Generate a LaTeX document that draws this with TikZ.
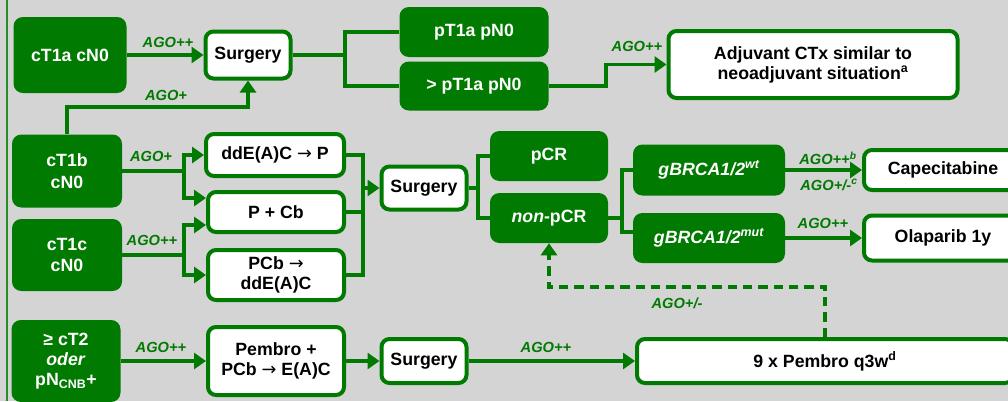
\documentclass[tikz,border=0pt]{standalone}
\usepackage{fontspec}
\setmainfont{Liberation Sans}
\newfontfamily\arrowfont{DejaVu Sans}
\usetikzlibrary{arrows.meta}
\definecolor{agogreen}{RGB}{0,122,0}
\definecolor{slidegray}{RGB}{212,212,212}
\newcommand{\thento}{{\arrowfont\mdseries →}}

\begin{document}
\begin{tikzpicture}[x=0.75pt, y=-0.75pt]
		\tikzstyle {stage} = [fill=agogreen, text=white, rounded corners=7pt, align=center, inner sep=2pt, font=\fontsize{13.3}{16}\selectfont\bfseries]
		\tikzstyle {therapy} = [draw=agogreen, line width=3pt, fill=white, text=black, rounded corners=6pt, align=center, inner sep=2pt, font=\fontsize{13.3}{15}\selectfont\bfseries]
		\tikzstyle {flow} = [draw=agogreen, line width=2.8pt]
		\tikzstyle {flow arrow} = [flow, -{Triangle[length=9pt,width=12pt]}]
		\tikzstyle {maybe} = [flow arrow, dash pattern=on 7pt off 4.5pt]
		\tikzstyle {ago} = [text=agogreen, inner sep=0pt, font=\fontsize{11}{13}\selectfont\bfseries\itshape]

		\useasboundingbox (0,0) rectangle (1008,401);
		\clip (0,0) rectangle (1008,401);
		\fill[slidegray] (0,0) rectangle (1008,401);
		\draw[agogreen!85, line width=1.2pt] (7,0) -- (7,401);

		% cT1a
		\node[stage, minimum width=84.75pt, minimum height=57pt] (t1a) at (70,55) {cT1a cN0};
		\node[therapy, minimum width=63.75pt, minimum height=35.25pt] (surg1) at (248,55) {Surgery};
		\node[stage, minimum width=111.75pt, minimum height=37.5pt] (pt1a) at (474,32) {pT1a pN0};
		\node[stage, minimum width=111.75pt, minimum height=36.75pt] (gtpt1a) at (474,86) {> pT1a pN0};
		\node[therapy, minimum width=216.75pt, minimum height=50.25pt] (adj) at (813,64.5) {Adjuvant CTx similar to\\neoadjuvant situation\textsuperscript{a}};

		\node[ago] (l1) at (168,42) {AGO++};
		\node[ago] (l2) at (166,95) {AGO+};
		\node[ago] (l3) at (637,46) {AGO++};

		\draw[flow arrow] (t1a) -- (surg1);
		\coordinate (s1) at (345,55);
		\draw[flow] (surg1) -- (s1);
		\draw[flow] (pt1a.west) -| (s1) |- (gtpt1a.west);
		\draw[flow arrow] (gtpt1a.east) -- ++(57,0) |- (adj.west);

		% cT1b / cT1c
		\node[stage, minimum width=82.5pt, minimum height=54.75pt] (t1b) at (67,171) {cT1b\\cN0};
		\node[stage, minimum width=82.5pt, minimum height=54pt] (t1c) at (67,255) {cT1c\\cN0};
		\node[therapy, minimum width=103.5pt, minimum height=31.5pt] (dde) at (275,155) {ddE(A)C \thento{} P};
		\node[therapy, minimum width=102pt, minimum height=30pt] (pcb) at (276,212) {P + Cb};
		\node[therapy, minimum width=102pt, minimum height=37.5pt] (pcbdde) at (276,275) {PCb \thento\\ddE(A)C};
		\node[therapy, minimum width=63.75pt, minimum height=32.25pt] (surg2) at (424,188) {Surgery};
		\node[stage, minimum width=88.5pt, minimum height=37.5pt] (pcr) at (549,156) {pCR};
		\node[stage, minimum width=88.5pt, minimum height=37.5pt] (npcr) at (549,218) {\textit{non}-pCR};
		\node[stage, minimum width=114pt, minimum height=38.25pt, font=\fontsize{13.3}{16}\selectfont\bfseries\itshape] (wt) at (709,170) {gBRCA1/2\textsuperscript{wt}};
		\node[stage, minimum width=114pt, minimum height=37.5pt, font=\fontsize{13.3}{16}\selectfont\bfseries\itshape] (mut) at (709,238) {gBRCA1/2\textsuperscript{mut}};
		\node[therapy, minimum width=118.5pt, minimum height=30pt] (cape) at (943,170) {Capecitabine};
		\node[therapy, minimum width=118.5pt, minimum height=33.75pt] (olap) at (943,238) {Olaparib 1y};

		\node[ago] (l4) at (151,156) {AGO+};
		\node[ago] (l5) at (152,240) {AGO++};
		\node[ago] (l6) at (828,158) {AGO++\textsuperscript{b}};
		\node[ago] (l7) at (829,185) {AGO+/-\textsuperscript{c}};
		\node[ago] (l8) at (823,223) {AGO++};
		\node[ago] (l9) at (677,303) {AGO+/-};

		\draw[flow arrow] (t1b.north) -- ++(0,-27) -| (surg1.south);

		\coordinate (b1) at (184,171);
		\coordinate (c1) at (184,255);
		\draw[flow] (t1b.east) -- (b1);
		\draw[flow arrow] (b1) |- (dde.west);
		\draw[flow arrow] (b1) |- ([yshift=10.5pt]pcb.west);
		\draw[flow] (t1c.east) -- (c1);
		\draw[flow arrow] (c1) |- ([yshift=-9.75pt]pcb.west);
		\draw[flow arrow] (c1) |- (pcbdde.west);

		\coordinate (j2) at (363,188);
		\draw[flow] (dde.east) -| (j2);
		\draw[flow] (pcbdde.east) -| (j2);
		\draw[flow] (pcb.east) -- (pcb.east -| j2);
		\draw[flow arrow] (j2) -- (surg2.west);

		\coordinate (j3) at (478,188);
		\draw[flow] (surg2) -- (j3);
		\draw[flow] (pcr.west) -| (j3) |- (npcr.west);

		\coordinate (j4) at (622,218);
		\draw[flow] (npcr) -- (j4);
		\draw[flow] (wt.west) -| (j4) |- ([yshift=4.5pt]mut.west);
		\draw[flow arrow] (wt) -- (cape);
		\draw[flow arrow] (mut) -- (olap);

		% >= cT2
		\node[stage, minimum width=81.75pt, minimum height=61.5pt, font=\fontsize{13.3}{15}\selectfont\bfseries] (t2) at (66,361) {≥ cT2\\\textit{oder}\\pN\textsubscript{CNB}+};
		\node[therapy, minimum width=102pt, minimum height=51pt] (pembro) at (276,361) {Pembro +\\PCb \thento{} E(A)C};
		\node[therapy, minimum width=63.75pt, minimum height=33pt] (surg3) at (424,361) {Surgery};
		\node[therapy, minimum width=282pt, minimum height=33pt] (pembro9) at (825,361) {9 x Pembro q3w\textsuperscript{d}};

		\node[ago] (l10) at (161,347) {AGO++};
		\node[ago] (l11) at (546,347) {AGO++};

		\draw[flow arrow] (t2) -- (pembro);
		\draw[flow arrow] (pembro) -- (surg3);
		\draw[flow arrow] (surg3) -- (pembro9);
		\draw[maybe] (pembro9.north) -- ++(0,-50) -| (npcr.south);
	\end{tikzpicture}
\end{document}
